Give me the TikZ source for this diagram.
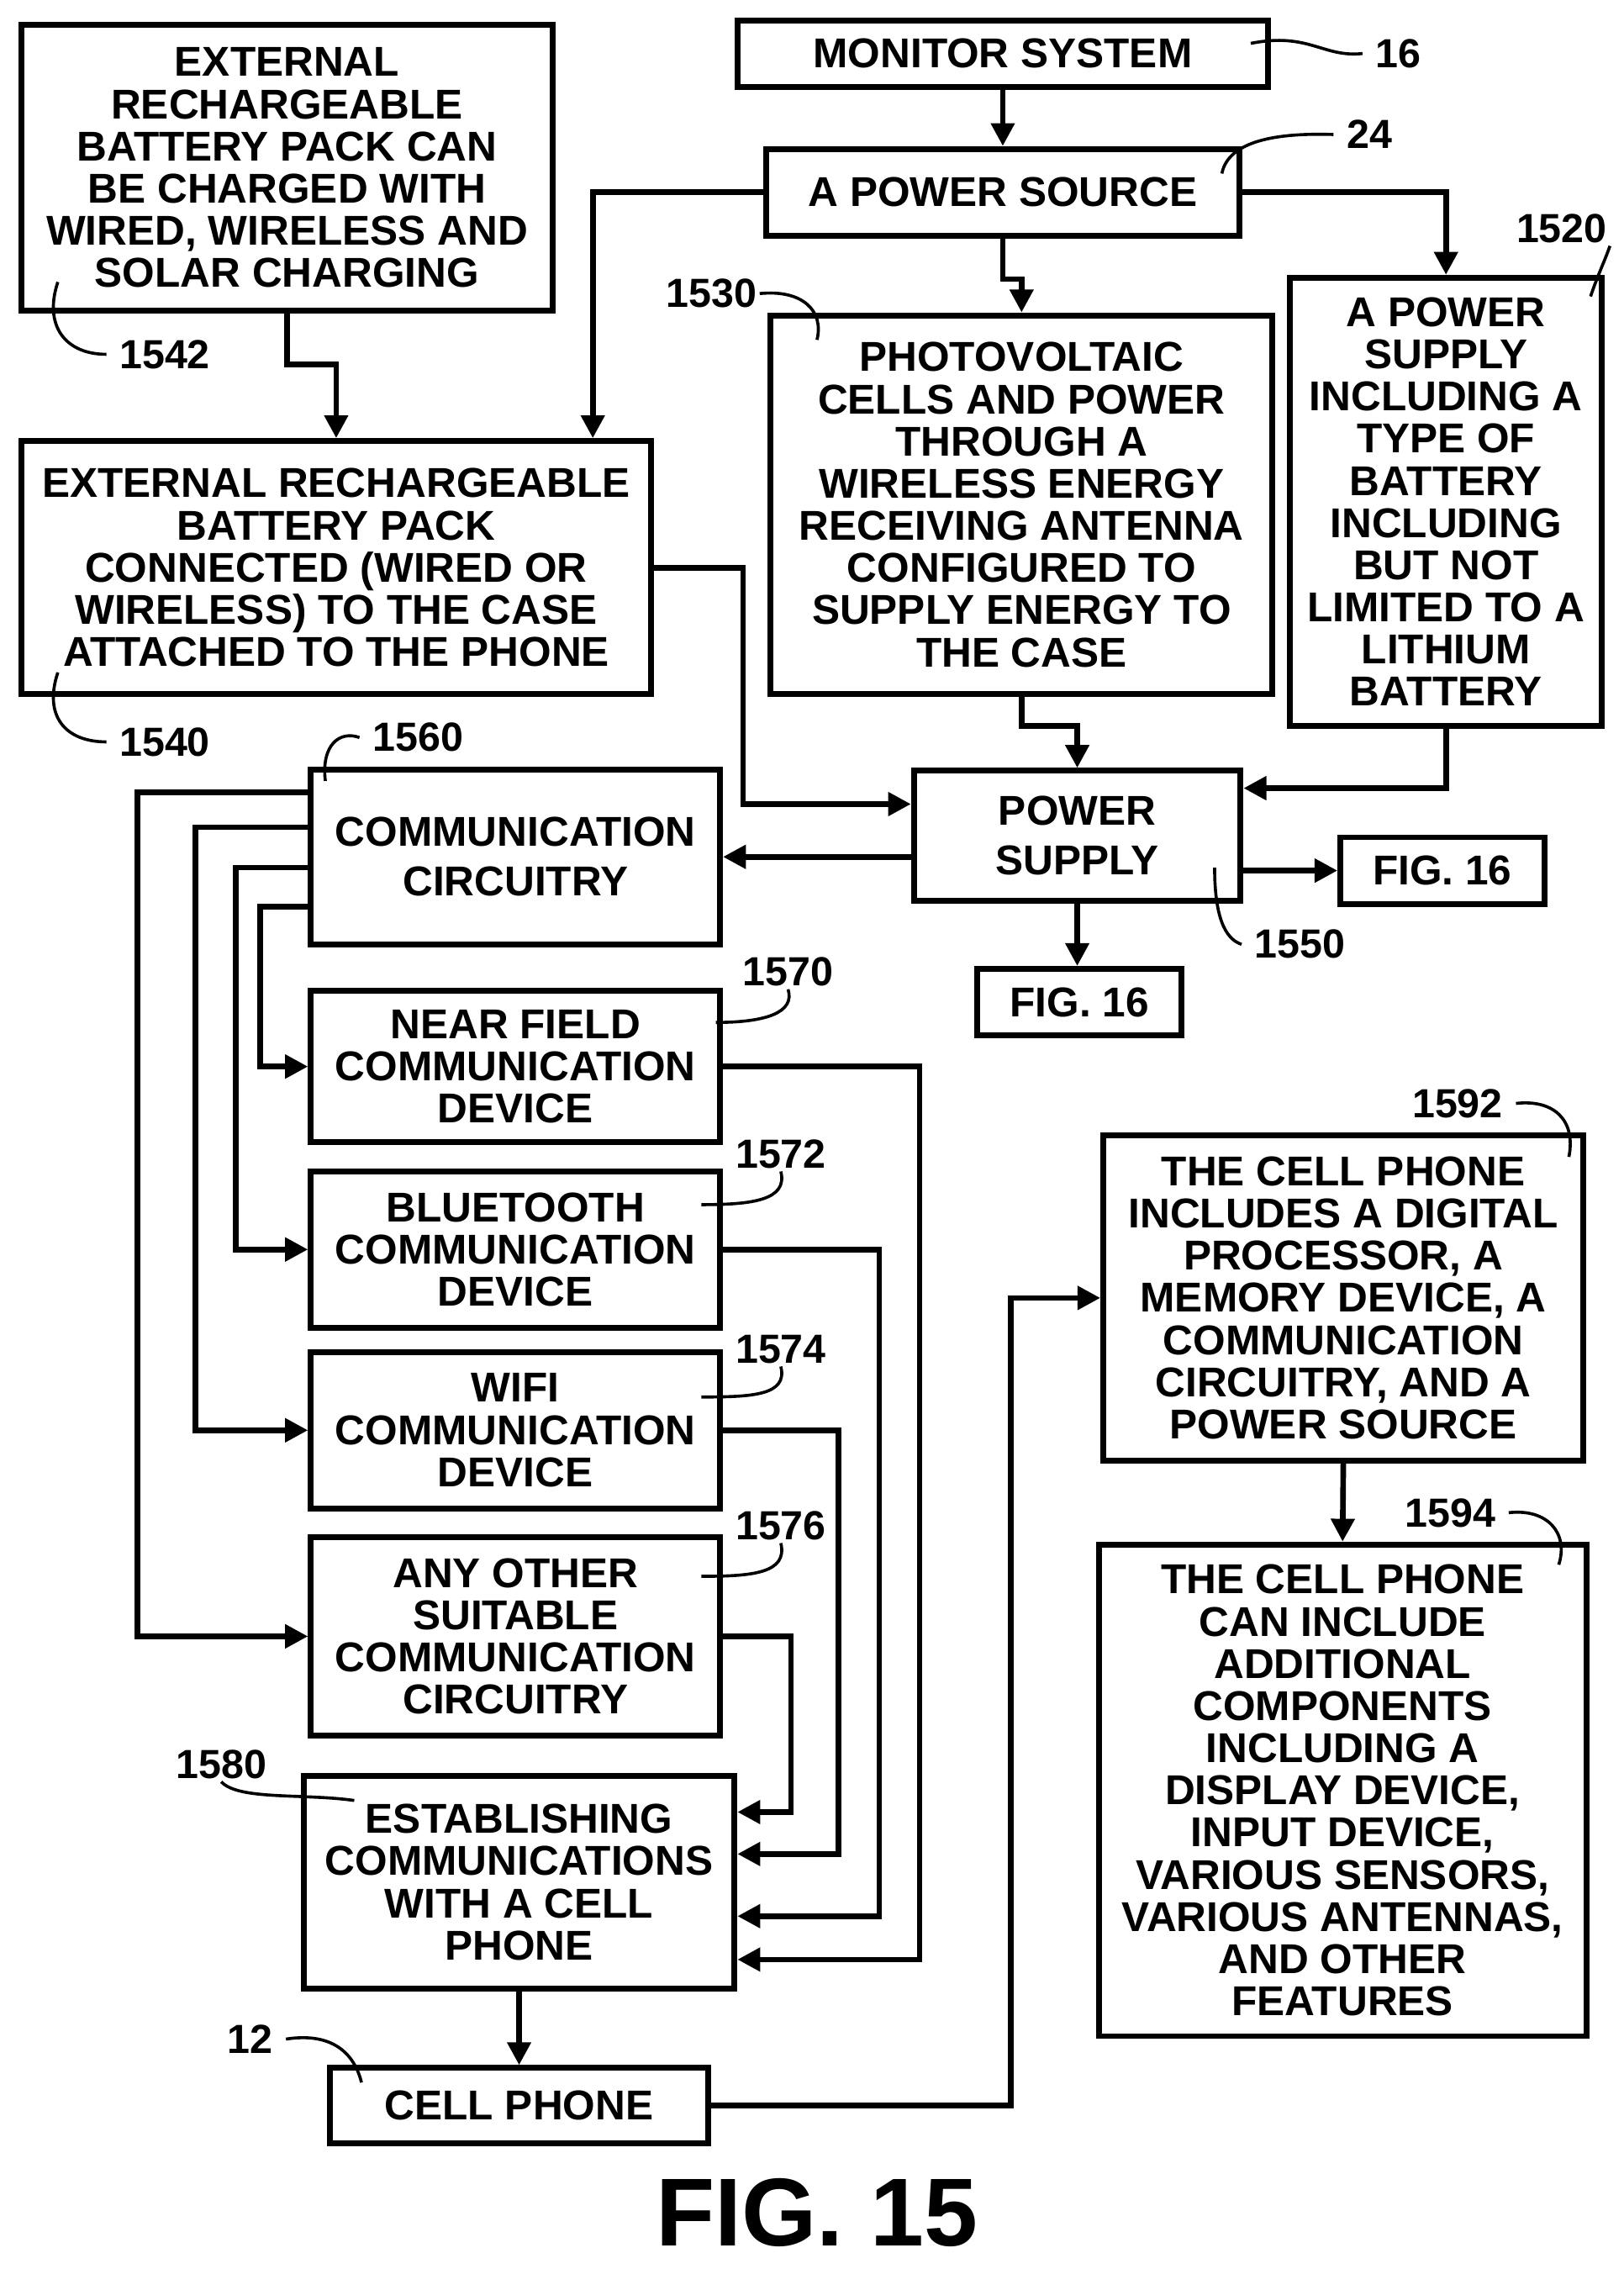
\documentclass[tikz,border=0pt]{standalone}
\usepackage{fontspec}
\setmainfont{Liberation Sans}
\usetikzlibrary{arrows.meta,positioning,calc}

\tikzset{
    box/.style={draw, line width=2.3pt, align=center, inner sep=0pt,
        font=\fontsize{16.4}{16.6}\selectfont\bfseries},
    arr/.style={line width=2.2pt, -{Triangle[length=9pt,width=9pt]}},
    lead/.style={line width=1.2pt},
    num/.style={font=\fontsize{16}{16.6}\selectfont\bfseries, inner sep=1pt}
}

\begin{document}
\begin{tikzpicture}[x=0.02cm, y=-0.02cm]
\useasboundingbox (0,0) rectangle (1123,1569);

% Top row boxes
\node[box, minimum width=7.34cm, minimum height=3.96cm] (ext) at (198.5,116)
    {EXTERNAL\\RECHARGEABLE\\BATTERY PACK CAN\\BE CHARGED WITH\\WIRED, WIRELESS AND\\SOLAR CHARGING};
\node[box, minimum width=7.34cm, minimum height=0.92cm] (mon) at (693.5,37) {MONITOR SYSTEM};
\node[box, minimum width=6.54cm, minimum height=1.2cm] (psrc) at (693.5,133) {A POWER SOURCE};

% Second row
\node[box, minimum width=8.7cm, minimum height=3.5cm] (conn) at (232.5,392.5)
    {EXTERNAL RECHARGEABLE\\BATTERY PACK\\CONNECTED (WIRED OR\\WIRELESS) TO THE CASE\\ATTACHED TO THE PHONE};
\node[box, minimum width=6.94cm, minimum height=5.24cm] (pv) at (706.5,349)
    {PHOTOVOLTAIC\\CELLS AND POWER\\THROUGH A\\WIRELESS ENERGY\\RECEIVING ANTENNA\\CONFIGURED TO\\SUPPLY ENERGY TO\\THE CASE};
\node[box, minimum width=4.32cm, minimum height=6.2cm] (ps1520) at (1000,347)
    {A POWER\\SUPPLY\\INCLUDING A\\TYPE OF\\BATTERY\\INCLUDING\\BUT NOT\\LIMITED TO A\\LITHIUM\\BATTERY};

% Power supply and figure references
\node[box, minimum width=4.52cm, minimum height=1.8cm] (ps1550) at (745,578) {POWER\\[0.1cm]SUPPLY};
\node[box, minimum width=2.82cm, minimum height=0.92cm] (f16a) at (997.5,602) {FIG. 16};
\node[box, minimum width=2.82cm, minimum height=0.92cm] (f16b) at (746.5,693) {FIG. 16};

% Communication column
\node[box, minimum width=5.66cm, minimum height=2.42cm] (comm) at (356.5,592.5) {COMMUNICATION\\[0.1cm]CIRCUITRY};
\node[box, minimum width=5.66cm, minimum height=2.1cm] (nfc) at (356.5,737.5) {NEAR FIELD\\COMMUNICATION\\DEVICE};
\node[box, minimum width=5.66cm, minimum height=2.16cm] (bt) at (356.5,864) {BLUETOOTH\\COMMUNICATION\\DEVICE};
\node[box, minimum width=5.66cm, minimum height=2.16cm] (wifi) at (356.5,989) {WIFI\\COMMUNICATION\\DEVICE};
\node[box, minimum width=5.66cm, minimum height=2.74cm] (other) at (356.5,1131.5) {ANY OTHER\\SUITABLE\\COMMUNICATION\\CIRCUITRY};
\node[box, minimum width=5.96cm, minimum height=2.94cm] (est) at (359,1301.5) {ESTABLISHING\\COMMUNICATIONS\\WITH A CELL\\PHONE};
\node[box, minimum width=5.24cm, minimum height=1.04cm] (cell) at (359,1456) {CELL PHONE};

% Cell phone details
\node[box, minimum width=6.64cm, minimum height=4.5cm] (p1592) at (929,897.5)
    {THE CELL PHONE\\INCLUDES A DIGITAL\\PROCESSOR, A\\MEMORY DEVICE, A\\COMMUNICATION\\CIRCUITRY, AND A\\POWER SOURCE};
\node[box, minimum width=6.74cm, minimum height=6.8cm] (p1594) at (928.5,1238)
    {THE CELL PHONE\\CAN INCLUDE\\ADDITIONAL\\COMPONENTS\\INCLUDING A\\DISPLAY DEVICE,\\INPUT DEVICE,\\VARIOUS SENSORS,\\VARIOUS ANTENNAS,\\AND OTHER\\FEATURES};

% Arrows
\draw[arr] (mon.south) -- (psrc.north);
\draw[arr] (psrc.west) -| ([xshift=3.55cm]conn.north);
\draw[arr] (psrc.east) -| (ps1520.north);
\draw[arr] (psrc.south) -- ++(0,28) -| (pv.north);
\draw[arr] (ext.south) -- ++(0,35) -| (conn.north);
\draw[arr] (conn.east) -- ++(62,0) |- ([yshift=0.44cm]ps1550.west);
\draw[arr] (pv.south) -- ++(0,20) -| (ps1550.north);
\draw[arr] (ps1520.south) |- ([yshift=0.66cm]ps1550.east);
\draw[arr] (ps1550.west |- comm.east) -- (comm.east);
\draw[arr] (ps1550.east |- f16a.west) -- (f16a.west);
\draw[arr] (ps1550.south) -- (ps1550.south |- f16b.north);

% Fan out from communication circuitry
\draw[arr] ([yshift=0.89cm]comm.west) -- ++(-118,0) |- (other.west);
\draw[arr] ([yshift=0.41cm]comm.west) -- ++(-78,0) |- (wifi.west);
\draw[arr] ([yshift=-0.15cm]comm.west) -- ++(-50,0) |- (bt.west);
\draw[arr] ([yshift=-0.69cm]comm.west) -- ++(-33,0) |- (nfc.west);

% Fan in to establishing communications
\draw[arr] (nfc.east) -- ++(136,0) |- ([yshift=-1.07cm]est.east);
\draw[arr] (bt.east) -- ++(108,0) |- ([yshift=-0.47cm]est.east);
\draw[arr] (wifi.east) -- ++(80,0) |- ([yshift=0.39cm]est.east);
\draw[arr] (other.east) -- ++(47,0) |- ([yshift=0.97cm]est.east);
\draw[arr] (est.south) -- (cell.north);
\draw[arr] (cell.east) -- ++(207,0) |- (p1592.west);
\draw[arr] (p1592.south) -- (p1594.north);

% Reference numerals
\node[num] (l16) at (967,37) {16};
\node[num] (l24) at (947,93) {24};
\node[num] (l1520) at (1080,158) {1520};
\node[num] (l1530) at (492,203) {1530};
\node[num] (l1542) at (114,245) {1542};
\node[num] (l1540) at (114,513) {1540};
\node[num] (l1560) at (289,510) {1560};
\node[num] (l1570) at (545,672) {1570};
\node[num] (l1572) at (540,798) {1572};
\node[num] (l1574) at (540,933) {1574};
\node[num] (l1576) at (540,1055) {1576};
\node[num] (l1580) at (153,1220) {1580};
\node[num] (l12) at (173,1410) {12};
\node[num] (l1550) at (899,653) {1550};
\node[num] (l1592) at (1008,763) {1592};
\node[num] (l1594) at (1003,1046) {1594};

% Leaders
\draw[lead] (865,30) .. controls (905,22) and (915,40) .. ([xshift=-4pt]l16.west);
\draw[lead] (845,120) .. controls (850,95) and (890,92) .. ([xshift=-4pt]l24.west);
\draw[lead] (l1520.south east) .. controls (1110,180) and (1105,190) .. (1100,205);
\draw[lead] (l1530.east) .. controls (555,200) and (570,215) .. (565,235);
\draw[lead] (40,195) .. controls (30,225) and (45,245) .. ([xshift=-4pt]l1542.west);
\draw[lead] (40,465) .. controls (30,495) and (45,513) .. ([xshift=-4pt]l1540.west);
\draw[lead] ([xshift=-4pt]l1560.west) .. controls (235,505) and (222,515) .. (225,540);
\draw[lead] (495,707) .. controls (530,707) and (550,700) .. (l1570.south);
\draw[lead] (485,833) .. controls (520,833) and (545,830) .. (l1572.south);
\draw[lead] (485,966) .. controls (520,966) and (545,965) .. (l1574.south);
\draw[lead] (485,1090) .. controls (520,1090) and (545,1088) .. (l1576.south);
\draw[lead] (l1580.south) .. controls (165,1245) and (210,1240) .. (245,1245);
\draw[lead] ([xshift=4pt]l12.east) .. controls (230,1405) and (245,1420) .. (250,1440);
\draw[lead] (840,600) .. controls (840,640) and (850,650) .. ([xshift=-4pt]l1550.west);
\draw[lead] ([xshift=4pt]l1592.east) .. controls (1075,760) and (1090,775) .. (1085,800);
\draw[lead] ([xshift=4pt]l1594.east) .. controls (1070,1043) and (1085,1060) .. (1078,1082);

% Figure title
\node[font=\fontsize{38}{40}\selectfont\bfseries] (title) at (565,1530) {FIG. 15};

\end{tikzpicture}
\end{document}
